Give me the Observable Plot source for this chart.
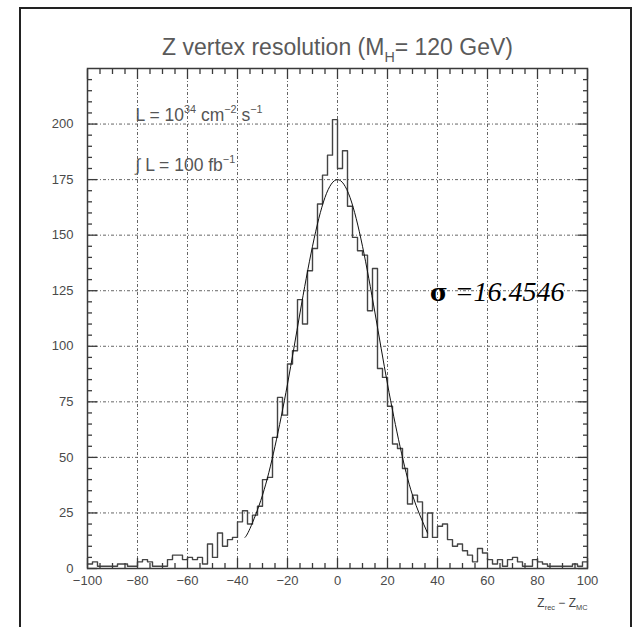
<!DOCTYPE html>
<html><head><meta charset="utf-8">
<script src="https://cdn.jsdelivr.net/npm/d3@7"></script>
<script src="https://cdn.jsdelivr.net/npm/@observablehq/plot@0.6"></script>
<style>
html,body{margin:0;padding:0;background:#fff;}
#wrap{position:relative;width:642px;height:627px;overflow:hidden;background:#fff;}
#border{position:absolute;left:19px;top:7px;width:613px;height:700px;border:2px solid #222;box-sizing:border-box;}
#chart{position:absolute;left:0;top:0;}
</style></head><body>
<div id="wrap"><div id="border"></div><div id="chart"></div></div>
<script>
// Histogram: 100 bins of width 2 from -100 to 100 (counts)
const binStart = -100;
const binWidth = 2;
const counts = [
  2, 3, 1, 1, 1, 1, 2, 2, 1, 1,        // -100 .. -82
  3, 4, 3, 1, 1, 1, 4, 6, 6, 4,        // -80 .. -62
  5, 4, 5, 2, 11, 5, 16, 10, 13, 14,   // -60 .. -42
  21, 26, 20, 24, 28, 40, 41, 59, 77, 69,      // -40 .. -22
  92, 98, 121, 110, 134, 144, 164, 177, 186, 202, // -20 .. -2
  180, 188, 163, 149, 143, 141, 116, 135, 90, 86, // 0 .. 18
  73, 56, 54, 45, 29, 33, 30, 14, 25, 14,      // 20 .. 38
  19, 20, 13, 10, 11, 8, 6, 3, 9, 7,           // 40 .. 58
  4, 2, 4, 1, 4, 5, 3, 1, 1, 4,                // 60 .. 78
  3, 2, 1, 1, 1, 1, 1, 2, 1, 3                 // 80 .. 98
];
// Gaussian fit curve
const fitX = [-37, -35, -30, -25, -20, -15, -10, -5, 0, 5, 10, 15, 20, 25, 30, 36];
const fitY = [14, 18, 33, 55, 83, 115, 145, 167, 175, 167, 145, 115, 83, 55, 33, 16];
const sigmaText = "16.4546";

const xTicks = [-100, -80, -60, -40, -20, 0, 20, 40, 60, 80, 100];
const yTicks = [0, 25, 50, 75, 100, 125, 150, 175, 200];
const xMinor = [-95,-90,-85,-75,-70,-65,-55,-50,-45,-35,-30,-25,-15,-10,-5,5,10,15,25,30,35,45,50,55,65,70,75,85,90,95];
const yMinor = [5,10,15,20,30,35,40,45,55,60,65,70,80,85,90,95,105,110,115,120,130,135,140,145,155,160,165,170,180,185,190,195,205,210,215,220];

const titleText = "Z vertex resolution (M|H|= 120 GeV)";
const lumiText = "L = 10|34| cm|\u22122| s|\u22121|";
const intLumiText = "\u222B L = 100 fb|\u22121|";
const xLabelText = "Z|rec| \u2212 Z|MC|";

const hist = counts.map((c, i) => ({x: binStart + i * binWidth, y: c}));
hist.push({x: binStart + counts.length * binWidth, y: counts[counts.length - 1]});
const fit = fitX.map((x, i) => ({x, y: fitY[i]}));

const tickColor = "#3a3a3a";
const gridStyle = {stroke: "#555", strokeOpacity: 1, strokeWidth: 0.9, strokeDasharray: "3,2,1,2"};
const font = "'Liberation Sans', Arial, Helvetica, sans-serif";

const plot = Plot.plot({
  width: 642, height: 627,
  marginLeft: 87, marginRight: 55, marginTop: 68, marginBottom: 59,
  x: {domain: [-100, 100], label: null},
  y: {domain: [0, 225], label: null},
  style: {fontFamily: font, background: "transparent", overflow: "visible"},
  marks: [
    Plot.gridX(xTicks.slice(1, -1), gridStyle),
    Plot.gridY(yTicks.slice(1), gridStyle),
    Plot.line(hist, {x: "x", y: "y", curve: "step-after", stroke: "#444", strokeWidth: 1.4}),
    Plot.line(fit, {x: "x", y: "y", curve: "natural", stroke: "#111", strokeWidth: 1}),
    Plot.frame({stroke: "#3a3a3a", strokeWidth: 1.5}),
    // inward ticks on all four sides
    Plot.axisX(xTicks, {anchor: "bottom", tickSize: -10, text: null, stroke: tickColor, strokeWidth: 1.3}),
    Plot.axisX(xMinor, {anchor: "bottom", tickSize: -5, text: null, stroke: tickColor, strokeWidth: 1.3}),
    Plot.axisX(xTicks, {anchor: "top", tickSize: -10, text: null, stroke: tickColor, strokeWidth: 1.3}),
    Plot.axisX(xMinor, {anchor: "top", tickSize: -5, text: null, stroke: tickColor, strokeWidth: 1.3}),
    Plot.axisY(yTicks, {anchor: "left", tickSize: -10, text: null, stroke: tickColor, strokeWidth: 1.3}),
    Plot.axisY(yMinor, {anchor: "left", tickSize: -5, text: null, stroke: tickColor, strokeWidth: 1.3}),
    Plot.axisY(yTicks, {anchor: "right", tickSize: -10, text: null, stroke: tickColor, strokeWidth: 1.3}),
    Plot.axisY(yMinor, {anchor: "right", tickSize: -5, text: null, stroke: tickColor, strokeWidth: 1.3}),
    // tick labels
    Plot.axisX(xTicks, {anchor: "bottom", tickSize: 0, tickPadding: 7, fontSize: 13, fill: "#4a4a4a"}),
    Plot.axisY(yTicks, {anchor: "left", tickSize: 0, tickPadding: 14, fontSize: 13, fill: "#4a4a4a"}),
    // title & annotations
    Plot.text([titleText], {frameAnchor: "top", dy: -30, text: d => d, fontSize: 23, fill: "#5a5a5a"}),
    Plot.text([lumiText], {frameAnchor: "top-left", dx: 48, dy: 52, text: d => d, textAnchor: "start", lineAnchor: "bottom", fontSize: 17.5, fill: "#555"}),
    Plot.text([intLumiText], {frameAnchor: "top-left", dx: 48, dy: 102, text: d => d, textAnchor: "start", lineAnchor: "bottom", fontSize: 17.5, fill: "#555"}),
    Plot.text([xLabelText], {frameAnchor: "bottom-right", dy: 38, text: d => d, textAnchor: "end", lineAnchor: "bottom", fontSize: 12, fill: "#444"}),
    Plot.text([{x: 37, y: 120.5}], {x: "x", y: "y", text: () => "\u03C3 =" + sigmaText, textAnchor: "start", lineAnchor: "bottom", fontSize: 28, fill: "#000", fontFamily: "'Liberation Serif', 'Times New Roman', serif", fontStyle: "italic"})
  ]
});
document.getElementById("chart").appendChild(plot);

// Rich text: "a|b|c" -> alternating normal / shifted parts
function richify(raw, kinds, size) {
  d3.select(plot).selectAll("text").filter(function() { return this.textContent === raw; }).each(function() {
    const t = d3.select(this);
    const parts = raw.split("|");
    t.text(null);
    let shift = 0, k = 0;
    parts.forEach((s, i) => {
      if (!s) return;
      let target = 0, sz = null;
      if (i % 2 === 1) {
        const kind = kinds[k++];
        target = kind === "sub" ? size * 0.3 : -size * 0.45;
        sz = size * 0.62;
      }
      const ts = t.append("tspan").text(s).attr("dy", (target - shift).toFixed(2));
      if (sz) ts.attr("font-size", sz.toFixed(1));
      shift = target;
    });
  });
}
richify(titleText, ["sub"], 23);
richify(lumiText, ["sup", "sup", "sup"], 17.5);
richify(intLumiText, ["sup"], 17.5);
richify(xLabelText, ["sub", "sub"], 12);
// sigma symbol upright
d3.select(plot).selectAll("text").filter(function() { return this.textContent === "\u03C3 =" + sigmaText; }).each(function() {
  const t = d3.select(this);
  t.text(null);
  t.append("tspan").text("\u03C3").attr("font-style", "normal").attr("font-weight", "bold").attr("font-family", "'DejaVu Serif', serif").attr("font-size", 24);
  t.append("tspan").text(" =" + sigmaText);
});
</script>
</body></html>
